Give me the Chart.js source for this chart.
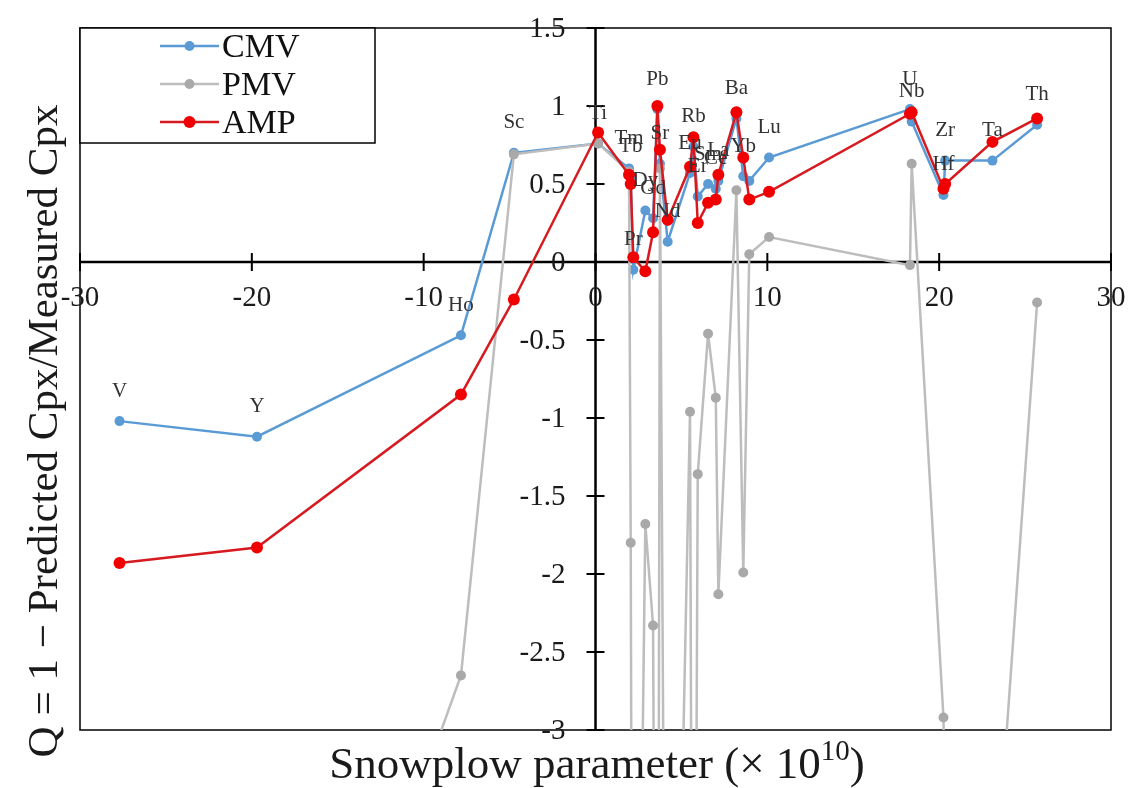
<!DOCTYPE html>
<html><head><meta charset="utf-8">
<script src="https://cdn.jsdelivr.net/npm/chart.js@4.4.0/dist/chart.umd.min.js"></script>
<style>html,body{margin:0;padding:0;background:#fff}#wrap{width:1132px;height:788px}</style>
</head><body><div id="wrap"><canvas id="c" width="1132" height="788"></canvas></div>
<script>
// ---- data ----
const elements = ['V','Y','Ho','Sc','Ti','Tm','Tb','Pr','Dy','Gd','Pb','Sr','Nd','Eu','Rb','Er','Sm','Ce','La','Ba','Yb','','Lu','U','Nb','Hf','Zr','Ta','Th'];
const snowplow = [-27.7,-19.7,-7.83,-4.75,0.15,1.95,2.05,2.2,2.9,3.35,3.6,3.75,4.2,5.5,5.7,5.95,6.55,7.0,7.15,8.2,8.6,8.95,10.1,18.3,18.4,20.25,20.35,23.1,25.7];
const cmv = [-1.02,-1.12,-0.47,0.70,0.76,0.60,0.55,-0.05,0.33,0.28,0.98,0.63,0.13,0.57,0.74,0.42,0.50,0.47,0.52,0.92,0.55,0.52,0.67,0.98,0.90,0.43,0.65,0.65,0.88];
const pmv = [-8.5,-6.3,-2.65,0.69,0.76,0.58,-1.80,-8.0,-1.68,-2.33,-8.0,0.60,-8.0,-0.96,-7.5,-1.36,-0.46,-0.87,-2.13,0.46,-1.99,0.05,0.16,-0.02,0.63,-2.92,-3.7,-4.3,-0.26];
const amp = [-1.93,-1.83,-0.85,-0.24,0.83,0.56,0.50,0.03,-0.06,0.19,1.00,0.72,0.27,0.61,0.80,0.25,0.38,0.40,0.56,0.96,0.67,0.40,0.45,0.95,0.96,0.47,0.50,0.77,0.92];
const seriesNames = ['CMV','PMV','AMP'];
const xTicks = [-30,-20,-10,0,10,20,30];
const xTickLabels = ['-30','-20','-10','0','10','20','30'];
const yTicks = [-3,-2.5,-2,-1.5,-1,-0.5,0,0.5,1,1.5];
const yTickLabels = ['-3','-2.5','-2','-1.5','-1','-0.5','0','0.5','1','1.5'];
const xTitle = 'Snowplow parameter (\u00d7 10';
const xTitleSup = '10';
const xTitleEnd = ')';
const yTitle = 'Q = 1 \u2212 Predicted Cpx/Measured Cpx';

const pts = arr => snowplow.map((x,i)=>({x:x, y:arr[i]}));
const SERIF = '"Liberation Serif", "Times New Roman", serif';

const decor = {
  id:'decor',
  beforeDatasetsDraw(chart){
    const {ctx, chartArea:a, scales:{x,y}} = chart;
    const x0 = x.getPixelForValue(0), y0 = y.getPixelForValue(0);
    const L=(x1,y1,x2,y2)=>{ctx.beginPath();ctx.moveTo(x1,y1);ctx.lineTo(x2,y2);ctx.stroke();};
    ctx.save();
    ctx.strokeStyle='#000';
    ctx.lineWidth=1.5;
    ctx.strokeRect(a.left, a.top, a.right-a.left, a.bottom-a.top);
    ctx.lineWidth=2.5;
    L(a.left,y0,a.right,y0); L(x0,a.top,x0,a.bottom);
    ctx.lineWidth=2;
    x.ticks.forEach(t=>{const px=x.getPixelForValue(t.value); L(px,y0-9,px,y0+9);});
    y.ticks.forEach(t=>{const py=y.getPixelForValue(t.value); L(x0-9,py,x0+9,py);});
    ctx.fillStyle='#1a1a1a';
    ctx.font='29px '+SERIF;
    ctx.textAlign='center'; ctx.textBaseline='middle';
    xTicks.forEach((v,i)=>{ctx.fillText(xTickLabels[i], x.getPixelForValue(v), y0+36);});
    ctx.textAlign='right';
    yTicks.forEach((v,i)=>{ctx.fillText(yTickLabels[i], x0-30, y.getPixelForValue(v)+1);});
    // axis titles
    const F1='45px '+SERIF, F2='29px '+SERIF;
    ctx.textBaseline='alphabetic'; ctx.textAlign='left';
    ctx.font=F1; const w1=ctx.measureText(xTitle).width;
    ctx.font=F2; const w2=ctx.measureText(xTitleSup).width;
    ctx.font=F1; const w3=ctx.measureText(xTitleEnd).width;
    const cx=597, by=778; let sx=cx-(w1+w2+w3)/2;
    ctx.fillText(xTitle,sx,by);
    ctx.font=F2; ctx.fillText(xTitleSup,sx+w1,by-18);
    ctx.font=F1; ctx.fillText(xTitleEnd,sx+w1+w2,by);
    ctx.font='43px '+SERIF;
    ctx.save(); ctx.translate(57,431); ctx.rotate(-Math.PI/2);
    ctx.textAlign='center'; ctx.fillText(yTitle,0,0); ctx.restore();
    ctx.restore();
  },
  afterDatasetsDraw(chart){
    const {ctx, scales:{x,y}} = chart;
    ctx.save();
    // element labels above CMV points
    ctx.font='21px '+SERIF; ctx.fillStyle='#333'; ctx.textAlign='center'; ctx.textBaseline='middle';
    elements.forEach((el,i)=>{ if(!el) return; ctx.fillText(el, x.getPixelForValue(snowplow[i]), y.getPixelForValue(cmv[i])-30); });
    // legend box
    const bx=80, byy=28, bw=295, bh=115;
    ctx.fillStyle='#fff'; ctx.fillRect(bx,byy,bw,bh);
    ctx.strokeStyle='#000'; ctx.lineWidth=1.5; ctx.strokeRect(bx,byy,bw,bh);
    seriesNames.forEach((name,j)=>{
      const ds = chart.data.datasets.find(d=>d.label===name);
      const ly = 46 + j*38;
      ctx.strokeStyle=ds.borderColor; ctx.lineWidth=ds.borderWidth;
      ctx.beginPath(); ctx.moveTo(160,ly); ctx.lineTo(219,ly); ctx.stroke();
      ctx.fillStyle=ds.pointBackgroundColor; ctx.beginPath(); ctx.arc(189.5,ly,ds.pointRadius,0,Math.PI*2); ctx.fill();
      ctx.fillStyle='#111'; ctx.font='34px '+SERIF; ctx.textAlign='left'; ctx.textBaseline='middle';
      ctx.fillText(name, 222, ly+2);
    });
    ctx.restore();
  }
};

new Chart(document.getElementById('c'), {
  type:'line',
  data:{ datasets:[
    {label:seriesNames[0], data:pts(cmv), borderColor:'#5b9bd5', backgroundColor:'#5b9bd5', pointBackgroundColor:'#5b9bd5', pointBorderColor:'#5b9bd5', borderWidth:2.5, pointRadius:5, pointBorderWidth:0, order:3},
    {label:seriesNames[1], data:pts(pmv), borderColor:'#bdbdbd', backgroundColor:'#a9a9a9', pointBackgroundColor:'#a9a9a9', pointBorderColor:'#a9a9a9', borderWidth:2.5, pointRadius:5, pointBorderWidth:0, order:2},
    {label:seriesNames[2], data:pts(amp), borderColor:'#d71920', backgroundColor:'#f00000', pointBackgroundColor:'#f00000', pointBorderColor:'#f00000', borderWidth:2.5, pointRadius:6, pointBorderWidth:0, order:1}
  ]},
  options:{
    responsive:false, animation:false, devicePixelRatio:1,
    layout:{padding:{left:80, top:28, right:21, bottom:58}},
    plugins:{legend:{display:false}, tooltip:{enabled:false}},
    elements:{line:{tension:0}},
    scales:{
      x:{type:'linear', min:-30, max:30, position:{y:0}, grid:{display:false}, border:{display:false}, ticks:{display:false},
         afterBuildTicks:s=>{s.ticks=xTicks.map(v=>({value:v}));}},
      y:{type:'linear', min:-3, max:1.5, position:{x:0}, grid:{display:false}, border:{display:false}, ticks:{display:false},
         afterBuildTicks:s=>{s.ticks=yTicks.map(v=>({value:v}));}}
    }
  },
  plugins:[decor]
});
</script></body></html>
